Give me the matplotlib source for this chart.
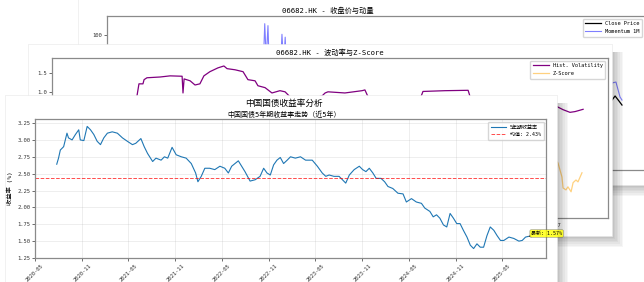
import matplotlib
matplotlib.use('Agg')
import matplotlib.pyplot as plt
import matplotlib.dates as mdates
from matplotlib.patches import Rectangle
import numpy as np
import pandas as pd

plt.rcParams['font.family'] = ['DejaVu Sans Mono', 'Noto Sans CJK SC']
plt.rcParams['axes.unicode_minus'] = False

# front window: 5y CGB yield
bond_dates = pd.to_datetime([
    '2020-07-25', '2020-08-01', '2020-08-08', '2020-08-21', '2020-09-03', '2020-09-09',
    '2020-09-23', '2020-10-06', '2020-10-19', '2020-10-25', '2020-11-08', '2020-11-21',
    '2020-12-04', '2020-12-17', '2020-12-30', '2021-01-12', '2021-01-25', '2021-02-08',
    '2021-02-27', '2021-03-19', '2021-04-08', '2021-04-27', '2021-05-17', '2021-05-30',
    '2021-06-19', '2021-07-02', '2021-07-15', '2021-08-04', '2021-08-17', '2021-09-06',
    '2021-09-19', '2021-10-02', '2021-10-19', '2021-11-04', '2021-11-24', '2021-12-13',
    '2022-01-02', '2022-01-19', '2022-01-28', '2022-02-10', '2022-02-24', '2022-03-15',
    '2022-04-04', '2022-04-24', '2022-05-13', '2022-05-27', '2022-06-09', '2022-07-05',
    '2022-07-18', '2022-07-31', '2022-08-20', '2022-09-09', '2022-09-28', '2022-10-12',
    '2022-10-25', '2022-11-07', '2022-11-20', '2022-12-03', '2022-12-16', '2022-12-29',
    '2023-01-12', '2023-01-25', '2023-02-13', '2023-03-05', '2023-03-25', '2023-04-20',
    '2023-05-10', '2023-05-29', '2023-06-12', '2023-06-25', '2023-07-14', '2023-08-03',
    '2023-08-16', '2023-08-29', '2023-09-12', '2023-10-01', '2023-10-21', '2023-11-03',
    '2023-11-16', '2023-11-29', '2023-12-13', '2023-12-26', '2024-01-14', '2024-01-28',
    '2024-02-10', '2024-02-29', '2024-03-20', '2024-04-09', '2024-04-22', '2024-05-12',
    '2024-05-31', '2024-06-20', '2024-07-03', '2024-07-23', '2024-08-05', '2024-08-18',
    '2024-08-31', '2024-09-14', '2024-09-27', '2024-10-10', '2024-10-23', '2024-11-05',
    '2024-11-18', '2024-12-01', '2024-12-15', '2024-12-28', '2025-01-10', '2025-01-23',
    '2025-02-05', '2025-02-18', '2025-03-03', '2025-03-16', '2025-03-30', '2025-04-12',
    '2025-04-25', '2025-05-08', '2025-05-28', '2025-06-16', '2025-07-06', '2025-07-19',
    '2025-08-01', '2025-08-12'])
bond_yield = [
    2.64, 2.73, 2.85, 2.90, 3.10, 3.03, 3.00, 3.08, 3.15, 3.00, 2.99, 3.20,
    3.15, 3.08, 2.98, 2.93, 3.03, 3.10, 3.12, 3.10, 3.03, 2.98, 2.93, 2.95,
    3.02, 2.90, 2.80, 2.68, 2.73, 2.70, 2.75, 2.73, 2.89, 2.78, 2.75, 2.73,
    2.65, 2.51, 2.38, 2.46, 2.58, 2.58, 2.56, 2.61, 2.58, 2.51, 2.61, 2.69,
    2.61, 2.53, 2.39, 2.41, 2.46, 2.58, 2.51, 2.48, 2.63, 2.70, 2.74, 2.65,
    2.70, 2.75, 2.73, 2.75, 2.70, 2.70, 2.61, 2.51, 2.46, 2.48, 2.46, 2.46,
    2.41, 2.36, 2.48, 2.56, 2.61, 2.56, 2.53, 2.58, 2.51, 2.43, 2.43, 2.38,
    2.31, 2.28, 2.21, 2.20, 2.08, 2.13, 2.08, 2.06, 1.99, 1.94, 1.86, 1.89,
    1.84, 1.74, 1.71, 1.91, 1.84, 1.76, 1.76, 1.66, 1.56, 1.44, 1.39, 1.46,
    1.41, 1.41, 1.58, 1.71, 1.66, 1.58, 1.51, 1.51, 1.56, 1.54, 1.50, 1.51,
    1.56, 1.57]
mean_yield = 2.43

# middle window: volatility / z-score (only partly visible)
vol_x = [38.2, 39.1, 40.9, 41.4, 42.7, 48.6, 53.1, 58.5, 58.9, 59.4, 62.1, 64.3,
         66.5, 68.3, 71.0, 74.6, 77.3, 78.7, 82.3, 85.9, 88.1, 91.3, 92.6, 95.8,
         98.9, 102.5, 104.8, 107.0, 113.8, 121.4, 122.8, 124.1, 131.7, 139.4, 140.7,
         142.1, 154.2, 165.9, 166.8, 176.7, 187.1, 188.0, 210.4, 227.1, 229.8, 232.9,
         235.2, 238.8]
vol_y = [0.89, 1.21, 1.21, 1.32, 1.37, 1.39, 1.42, 1.41, 0.97, 1.34, 1.29, 1.18,
         1.21, 1.42, 1.53, 1.63, 1.68, 1.61, 1.58, 1.53, 1.32, 1.29, 1.16, 1.11,
         0.97, 1.03, 1.00, 0.87, 0.79, 0.89, 0.97, 1.00, 0.97, 1.03, 1.05,
         0.87, 0.53, 0.87, 1.01, 1.03, 1.04, 0.87, 0.53, 0.61, 0.53, 0.46,
         0.48, 0.54]
z_x = [40, 80, 120, 160, 200, 219, 227.5, 229.3, 229.8, 231.1, 232.0, 233.4,
       234.3, 235.6, 236.5, 238.3]
z_y = [-0.2, 0.5, -0.6, 0.3, -0.4, -0.3, -0.87, -1.24, -1.53, -1.58, -1.50, -1.63,
       -1.39, -1.32, -1.37, -1.13]
mid_ticks = [40, 100, 160, 224]
mid_labels = ['2024-10', '2025-01', '2025-04', '2025-07']

# back window: close price / momentum (only partly visible)
close_x = [150, 200, 229, 234.7, 236.1, 237.9, 239.3]
close_y = [20, 25, 30, 32.7, 36.9, 31.7, 27.5]
mom_x = [55, 72.5, 73.3, 74.0, 74.8, 75.5, 80.5, 81.3, 82.1, 82.8, 83.5, 150, 231.4,
         234.7, 236.5, 238.4, 239.3]
mom_y = [10, 60, 112, 75, 110, 60, 60, 101, 70, 98, 60, 5, 22,
         50.4, 51.4, 35.8, 32.7]

W, H = 644, 282
fig = plt.figure(figsize=(W / 100, H / 100), dpi=100)
fig.patch.set_facecolor('white')


def box(x0, y0, x1, y1):
    return [x0 / W, 1 - y1 / H, (x1 - x0) / W, (y1 - y0) / H]


def window(x0, y0, x1, y1, z):
    # soft drop shadow then the white window itself
    for k in range(8):
        g = 1.6 * k
        l, t, r, b = x0 + 6, y0 + 8, x1 + g, y1 + g
        fig.add_artist(Rectangle((l / W, 1 - b / H), (r - l) / W, (b - t) / H,
                                 transform=fig.transFigure, facecolor='black',
                                 alpha=0.035, lw=0, zorder=z))
    fig.add_artist(Rectangle((x0 / W, 1 - y1 / H), (x1 - x0) / W, (y1 - y0) / H,
                             transform=fig.transFigure, facecolor='white',
                             edgecolor='#e6e6e6', lw=0.4, zorder=z + 0.1))


def frame(ax):
    for s in ax.spines.values():
        s.set_color('#8a8a8a')
        s.set_linewidth(0.9)
    ax.tick_params(labelsize=4, length=2, width=0.5, pad=1.5, colors='#333333')


# ---- back window
window(78, -10, 660, 185, 1)
ax1 = fig.add_axes(box(107, 16, 645, 170), zorder=1.2)
ax1.plot(close_x, close_y, color='black', lw=0.9, label='Close Price')
ax1.plot(mom_x, mom_y, color='blue', lw=0.8, alpha=0.5, label='Momentum 1M')
ax1.set_xlim(0, 250)
ax1.set_ylim(-40, 120)
ax1.set_yticks([0, 50, 100])
ax1.set_xticks([])
ax1.set_title('06682.HK - 收盘价与动量', fontsize=5.2, pad=2, x=0.41)
ax1.legend(loc='upper right', fontsize=3.8, handlelength=3, borderpad=0.5)
frame(ax1)

# ---- middle window
window(28, 44, 612, 236, 3)
ax2 = fig.add_axes(box(52, 58, 608, 218), zorder=3.2)
ax2.plot(vol_x, vol_y, color='purple', lw=0.9, label='Hist. Volatility')
ax2.plot(z_x, z_y, color='orange', lw=0.9, alpha=0.5, label='Z-Score')
ax2.set_xlim(0, 250)
ax2.set_ylim(-2.32, 1.89)
ax2.set_yticks(np.arange(-2, 2, 0.5))
ax2.set_xticks(mid_ticks)
ax2.set_xticklabels(mid_labels)
ax2.set_title('06682.HK - 波动率与Z-Score', fontsize=5.2, pad=2)
ax2.legend(loc='upper right', fontsize=3.8, handlelength=3, borderpad=0.5)
frame(ax2)

# ---- front window
window(5, 95, 557, 300, 5)
ax3 = fig.add_axes(box(35, 119, 546, 258), zorder=5.2)
ax3.plot(bond_dates, bond_yield, color='#1f77b4', lw=0.8, label='5年期收益率')
ax3.axhline(mean_yield, color='red', ls='--', lw=0.7, alpha=0.7,
            label=f'均值: {mean_yield:.2f}%')
ax3.annotate(f'最新: {bond_yield[-1]:.2f}%', xy=(bond_dates[-1], bond_yield[-1]),
             xytext=(2, 1), textcoords='offset points', fontsize=3.6,
             bbox=dict(boxstyle='round,pad=0.25', fc='yellow', ec='#555555', lw=0.3, alpha=0.8),
             arrowprops=dict(arrowstyle='->', lw=0.5, color='#333333'))
ax3.set_xlim(pd.Timestamp('2020-05-01'), pd.Timestamp('2025-10-20'))
ax3.set_ylim(1.25, 3.31)
ax3.set_yticks(np.arange(1.25, 3.3, 0.25))
ax3.yaxis.set_major_formatter(plt.FormatStrFormatter('%.2f'))
ax3.xaxis.set_major_locator(mdates.MonthLocator(bymonth=[5, 11]))
ax3.xaxis.set_major_formatter(mdates.DateFormatter('%Y-%m'))
for lab in ax3.get_xticklabels():
    lab.set_rotation(45)
ax3.grid(True, alpha=0.3, lw=0.5)
ax3.set_ylabel('收益率 (%)', fontsize=4.5, labelpad=3)
ax3.legend(loc='upper right', fontsize=3.6, handlelength=3, borderpad=0.6)
frame(ax3)
ax3.text(284 / W, 1 - 103 / H, '中国国债收益率分析', transform=fig.transFigure,
         ha='center', va='center', fontsize=6.2)
ax3.text(284 / W, 1 - 114 / H, '中国国债5年期收益率走势（近5年）', transform=fig.transFigure,
         ha='center', va='center', fontsize=5)

fig.savefig('out.png', dpi=100)
